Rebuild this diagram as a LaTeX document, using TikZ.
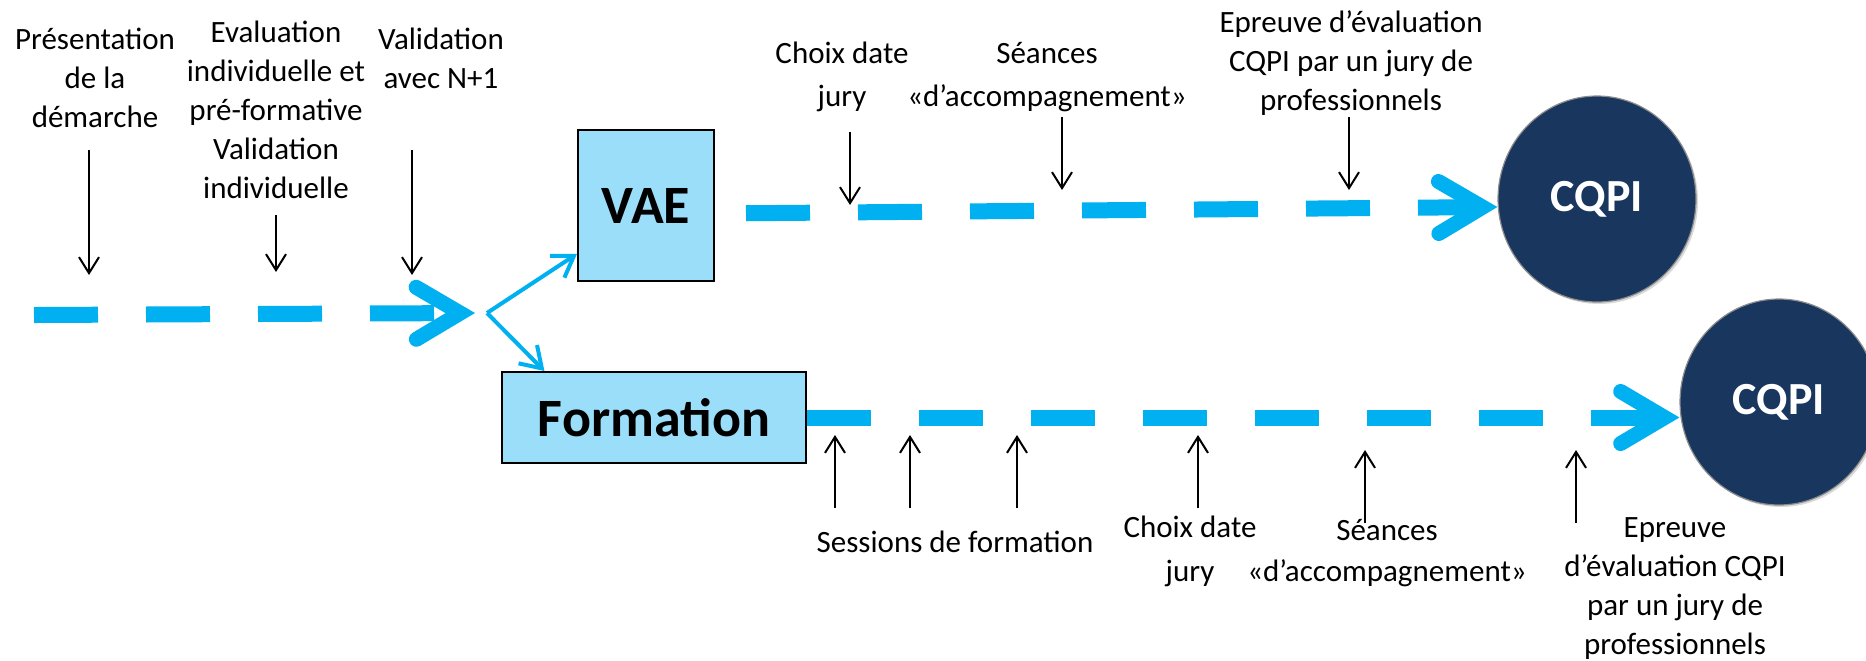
\documentclass[tikz,border=0pt]{standalone}
\usepackage{fontspec}
\setmainfont{Carlito}
\usetikzlibrary{arrows.meta,shapes.geometric,shadows}

\definecolor{flowblue}{RGB}{0,176,240}
\definecolor{boxblue}{RGB}{155,222,249}
\definecolor{navy}{RGB}{24,54,94}

\begin{document}
\begin{tikzpicture}[x=0.5pt, y=-0.5pt, font=\fontsize{15.5}{19.5}\selectfont]
    \tikzstyle{annot}=[align=center, inner sep=0pt]
    \tikzstyle{stage}=[draw=black, line width=1pt, fill=boxblue, inner sep=0pt, font=\fontsize{27}{32}\selectfont\bfseries]
    \tikzstyle{goal}=[ellipse, draw=black!45, line width=0.6pt, fill=navy, text=white, minimum width=99pt, minimum height=103pt, inner sep=0pt, font=\fontsize{23}{27}\selectfont\bfseries, drop shadow={opacity=0.3, shadow xshift=1pt, shadow yshift=-1pt}]
    \tikzstyle{flow}=[draw=flowblue, line width=8pt, dash pattern=on 32pt off 24pt, -{Straight Barb[length=22pt, width=26pt, line width=7.5pt, line cap=round, line join=miter]}]
    \tikzstyle{branch}=[draw=flowblue, line width=2pt, -{Straight Barb[length=10pt, width=13pt]}]
    \tikzstyle{note}=[draw=black, line width=1pt, -{Straight Barb[length=8pt, width=10pt]}]

    \useasboundingbox (0,0) rectangle (1866,660);
    \clip (0,0) rectangle (1866,660);

    % Draw the two boxes and the CQPI circles
    \node[stage, minimum width=68pt, minimum height=75.5pt] (vae) at (646,205.5) {VAE};
    \node[stage, minimum width=152pt, minimum height=45.5pt] (form) at (654,417.5) {Formation};
    \node[goal] (Q-1) at (1597,199) {CQPI};
    \node[goal] (Q-2) at (1779,402) {CQPI};

    % Main line up to the fork
    \coordinate (start) at (34,315);
    \coordinate (tip) at (475,313);
    \coordinate (fork) at (487,313);
    \draw[flow] (start) -- (tip);
    \draw[branch] (fork) -- (vae.215);
    \draw[branch] (fork) -- (form.157);

    % Dashed lines to the CQPI circles
    \draw[flow, shorten <=15.5pt] ([yshift=-4pt]vae.east) -- ([yshift=-4pt]Q-1.west);
    \draw[flow] (form.east) -- (form.east -| Q-2.west);

    % Annotate the steps
    \node[annot] (pres) at (95,78) {Présentation\\de la\\démarche};
    \node[annot] (eval) at (276,110) {Evaluation\\individuelle et\\pré-formative\\Validation\\individuelle};
    \node[annot] (valid) at (441,58) {Validation\\avec N+1};
    \node[annot] (choix-1) at (842,77) {Choix date\\[2pt]jury};
    \node[annot] (seance-1) at (1047,77) {Séances\\[2pt]«d’accompagnement»};
    \node[annot] (epreuve-1) at (1351,63) {Epreuve d’évaluation\\CQPI par un jury de\\professionnels};
    \node[annot] (sessions) at (955,542) {Sessions de formation};
    \node[annot] (choix-2) at (1190,551) {Choix date\\[2.5pt]jury};
    \node[annot] (seance-2) at (1387,553) {Séances\\[1pt]«d’accompagnement»};
    \node[annot] (epreuve-2) at (1675,589) {Epreuve\\d’évaluation CQPI\\par un jury de\\professionnels};

    % Arrows down to the upper lines
    \foreach \name/\x/\ya/\yb in {P/89/150/275, E/276/215/272, V/412/150/275, C/850/132/205, S/1062/117/190, J/1349/117/190} {
        \coordinate (D-\name) at (\x,\ya);
        \coordinate (D-\name-end) at (\x,\yb);
        \draw[note] (D-\name) -- (D-\name-end);
    }

    % Arrows up to the Formation line
    \foreach \name/\x/\ya/\yb in {1/835/508/435, 2/910/508/435, 3/1017/508/435, 4/1198/508/435, 5/1365/523/450, 6/1576/523/450} {
        \coordinate (U-\name) at (\x,\ya);
        \coordinate (U-\name-end) at (\x,\yb);
        \draw[note] (U-\name) -- (U-\name-end);
    }
\end{tikzpicture}
\end{document}
